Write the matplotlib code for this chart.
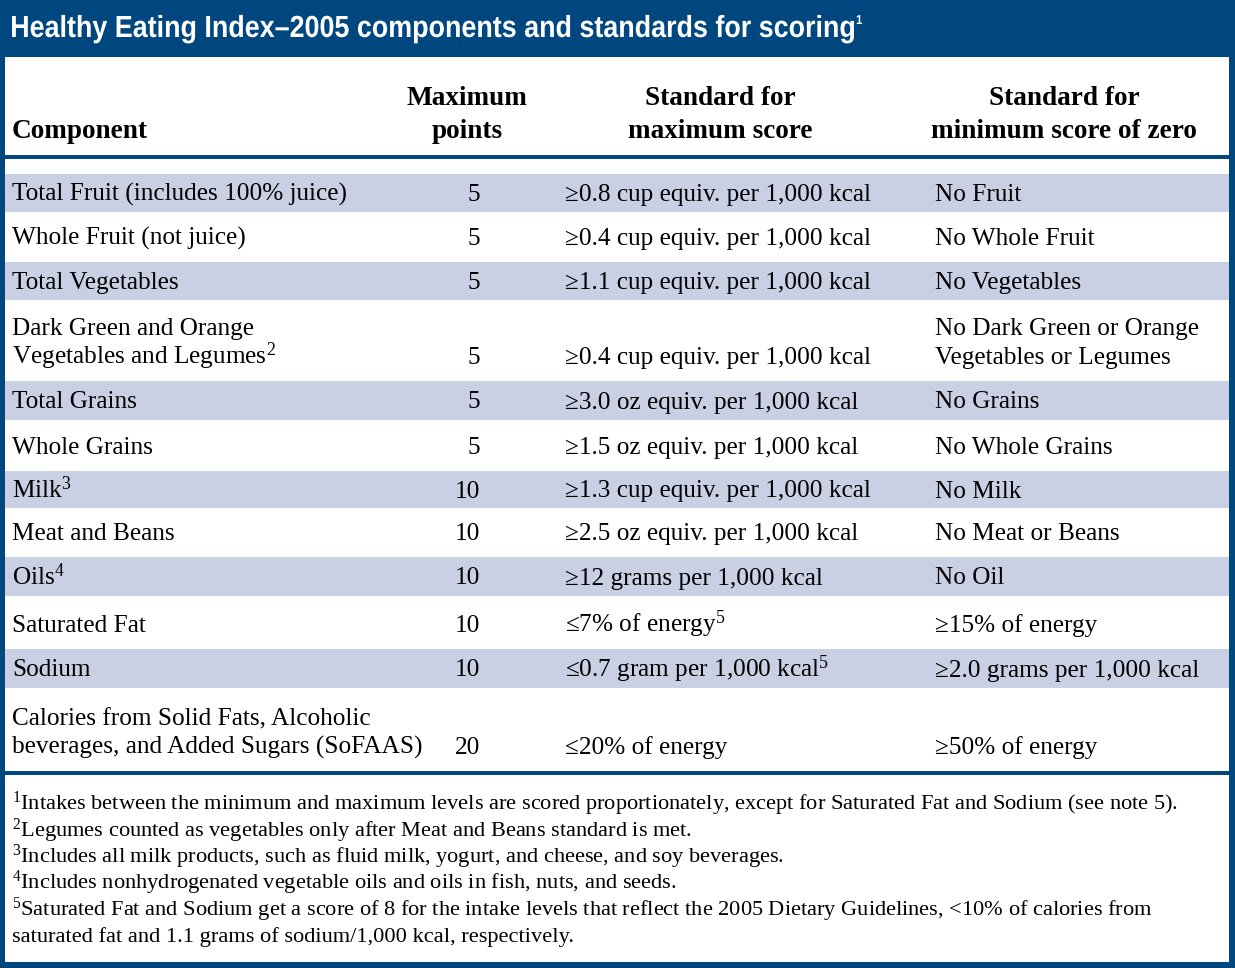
import matplotlib
matplotlib.use("Agg")
import matplotlib.pyplot as plt
from matplotlib.patches import Rectangle, PathPatch
from matplotlib.textpath import TextPath
from matplotlib.font_manager import FontProperties
from matplotlib.transforms import Affine2D

plt.rcParams['mathtext.fontset'] = 'custom'
plt.rcParams['mathtext.rm'] = 'Liberation Serif'
plt.rcParams['mathtext.it'] = 'Liberation Serif'
plt.rcParams['mathtext.bf'] = 'Liberation Serif:bold'

# --- table content ---
title = "Healthy Eating Index\u20132005 components and standards for scoring"
title_note = "1"
headers = ["Component", "Maximum\npoints", "Standard for\nmaximum score",
           "Standard for\nminimum score of zero"]
components = [
    "Total Fruit (includes 100% juice)",
    "Whole Fruit (not juice)",
    "Total Vegetables",
    "Dark Green and Orange\nVegetables and Legumes$^{2}$",
    "Total Grains",
    "Whole Grains",
    "Milk$^{3}$",
    "Meat and Beans",
    "Oils$^{4}$",
    "Saturated Fat",
    "Sodium",
    "Calories from Solid Fats, Alcoholic\nbeverages, and Added Sugars (SoFAAS)",
]
max_points = [5, 5, 5, 5, 5, 5, 10, 10, 10, 10, 10, 20]
max_standard = [
    "\u22650.8 cup equiv. per 1,000 kcal",
    "\u22650.4 cup equiv. per 1,000 kcal",
    "\u22651.1 cup equiv. per 1,000 kcal",
    "\u22650.4 cup equiv. per 1,000 kcal",
    "\u22653.0 oz equiv. per 1,000 kcal",
    "\u22651.5 oz equiv. per 1,000 kcal",
    "\u22651.3 cup equiv. per 1,000 kcal",
    "\u22652.5 oz equiv. per 1,000 kcal",
    "\u226512 grams per 1,000 kcal",
    "\u22647% of energy$^{5}$",
    "\u22640.7 gram per 1,000 kcal$^{5}$",
    "\u226420% of energy",
]
min_standard = [
    "No Fruit",
    "No Whole Fruit",
    "No Vegetables",
    "No Dark Green or Orange\nVegetables or Legumes",
    "No Grains",
    "No Whole Grains",
    "No Milk",
    "No Meat or Beans",
    "No Oil",
    "\u226515% of energy",
    "\u22652.0 grams per 1,000 kcal",
    "\u226550% of energy",
]
footnotes = [
    "$^{1}$Intakes between the minimum and maximum levels are scored proportionately, except for Saturated Fat and Sodium (see note 5).",
    "$^{2}$Legumes counted as vegetables only after Meat and Beans standard is met.",
    "$^{3}$Includes all milk products, such as fluid milk, yogurt, and cheese, and soy beverages.",
    "$^{4}$Includes nonhydrogenated vegetable oils and oils in fish, nuts, and seeds.",
    "$^{5}$Saturated Fat and Sodium get a score of 8 for the intake levels that reflect the 2005 Dietary Guidelines, <10% of calories from",
    "saturated fat and 1.1 grams of sodium/1,000 kcal, respectively.",
]

# --- layout (pixels) ---
W, H = 1235, 968
BLUE = "#00467f"
SHADE = "#c9d0e4"
row_heights = [38, 50, 38, 81, 39, 51, 37, 49, 39, 53, 39, 83]
first_row_top = 174
line_gap = 29
serif = "Liberation Serif"
body_size = 18.2
head_size = 19.6
foot_size = 16.1

fig = plt.figure(figsize=(W / 100, H / 100), dpi=100)
ax = fig.add_axes([0, 0, 1, 1])
ax.set_xlim(0, W)
ax.set_ylim(H, 0)
ax.axis("off")

# frame and title band
ax.add_patch(Rectangle((0, 0), W, H, facecolor=BLUE, lw=0, zorder=0))
ax.add_patch(Rectangle((5, 57), W - 11, H - 63, facecolor="white", lw=0, zorder=0))

# condensed bold sans title: squeeze a Liberation Sans path horizontally
tfont = FontProperties(family="Liberation Sans", weight="bold")
tpath = TextPath((0, 0), title, size=30.5, prop=tfont)
ext = tpath.get_extents()
sx = 842 / ext.width
tr = Affine2D().translate(-ext.x0, 0).scale(sx, -1).translate(12, 37)
ax.add_patch(PathPatch(tr.transform_path(tpath), facecolor="white", lw=0))
npath = TextPath((0, 0), title_note, size=13, prop=tfont)
tr2 = Affine2D().scale(sx, -1).translate(12 + 842 + 2, 24)
ax.add_patch(PathPatch(tr2.transform_path(npath), facecolor="white", lw=0))

# header
ax.text(12, 138, headers[0], family=serif, fontsize=head_size, fontweight="bold",
        ha="left", va="baseline")
for x, h in zip([467, 720, 1064], headers[1:]):
    l1, l2 = h.split("\n")
    ax.text(x, 105, l1, family=serif, fontsize=head_size, fontweight="bold",
            ha="center", va="baseline")
    ax.text(x, 138, l2, family=serif, fontsize=head_size, fontweight="bold",
            ha="center", va="baseline")
ax.add_patch(Rectangle((5, 155), W - 11, 4, facecolor=BLUE, lw=0, zorder=1))

# body rows
top = first_row_top
for i, h in enumerate(row_heights):
    shaded = i % 2 == 0
    if shaded:
        ax.add_patch(Rectangle((5, top), W - 11, h, facecolor=SHADE, lw=0, zorder=0.5))
        y_last = top + h / 2 + 8
    else:
        y_last = top + h - 25 + 8
    cells = [(12, components[i], "left"), (480, str(max_points[i]), "right"),
             (565, max_standard[i], "left"), (935, min_standard[i], "left")]
    for x, txt, ha in cells:
        lines = txt.split("\n")
        n = len(lines)
        for k, line in enumerate(lines):
            ax.text(x, y_last - (n - 1 - k) * line_gap, line, family=serif,
                    fontsize=body_size, ha=ha, va="baseline")
    top += h

ax.add_patch(Rectangle((5, top), W - 11, 4, facecolor=BLUE, lw=0, zorder=1))

# footnotes
for k, note in enumerate(footnotes):
    ax.text(12, 810 + k * 26.4, note, family=serif, fontsize=foot_size,
            ha="left", va="baseline")

fig.savefig("out.png", dpi=100)
